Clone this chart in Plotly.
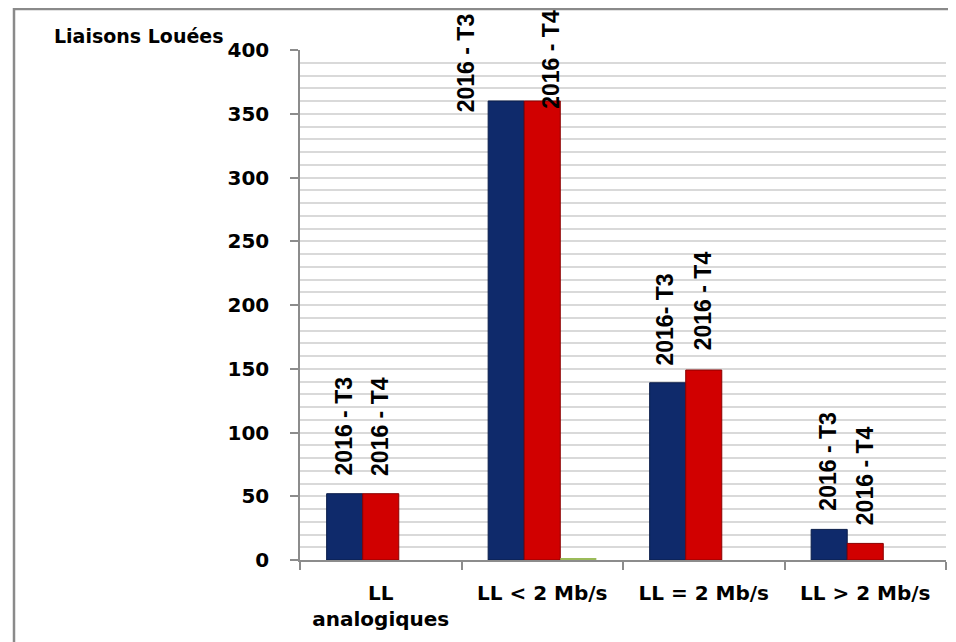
import plotly.graph_objects as go

# ---- data ----
categories = ["LL<br>analogiques", "LL < 2 Mb/s", "LL = 2 Mb/s", "LL > 2 Mb/s"]
series_names = ["2016 - T3", "2016 - T4", "autre"]
t3_values = [52, 360, 139, 24]
t4_values = [52, 360, 149, 13]
other_values = [0, 1, 0, 0]
t3_labels = ["2016 - T3", "2016 - T3", "2016- T3", "2016 - T3"]
t4_labels = ["2016 - T4", "2016 - T4", "2016 - T4", "2016 - T4"]
y_title = "Liaisons Louées"

# ---- styles ----
OFF = 8  # page body margin
W, H = 956 - OFF, 642 - OFF
ML, MR, MT, MB = 300 - OFF, 10, 50 - OFF, 82
PW, PH = W - ML - MR, H - MT - MB
BLUE = "#0f2a6b"
RED = "#d10000"
GREEN = "#9bbb59"
HFONT = "DejaVu Sans"
RFONT = "Liberation Sans"
# label offsets (pixels): (xshift, yshift)
t3_offsets = [(-37, 16), (-76, -13), (-39, 15), (-37, 17)]
t4_offsets = [(-1, 16), (8, -10), (-1, 18), (0, 16)]


def px_x(p):
    return (p - OFF - ML) / PW


def px_y(p):
    return (H - MB - (p - OFF)) / PH


fig = go.Figure()
fig.add_trace(go.Bar(x=categories, y=t3_values, name=series_names[0],
                     marker=dict(color=BLUE, line=dict(color="#0a1c4a", width=1))))
fig.add_trace(go.Bar(x=categories, y=t4_values, name=series_names[1],
                     marker=dict(color=RED, line=dict(color="#8a0000", width=1))))
fig.add_trace(go.Bar(x=categories, y=other_values, name=series_names[2],
                     marker=dict(color=GREEN, line=dict(width=0))))

ann = []
for i, c in enumerate(categories):
    for vals, labs, offs in ((t3_values, t3_labels, t3_offsets),
                             (t4_values, t4_labels, t4_offsets)):
        ann.append(dict(x=c, y=vals[i], xref="x", yref="y", text=labs[i],
                        showarrow=False, textangle=-90,
                        xanchor="center", yanchor="bottom",
                        xshift=offs[i][0], yshift=offs[i][1],
                        font=dict(family=RFONT, size=23, color="black", weight=700)))

ann.append(dict(x=px_x(52), y=px_y(36), xref="paper", yref="paper",
                text=y_title, showarrow=False, xanchor="left", yanchor="middle",
                font=dict(family=HFONT, size=19, color="black", weight=700)))

fig.update_layout(
    width=W, height=H,
    margin=dict(l=ML, r=MR, t=MT, b=MB),
    paper_bgcolor="white", plot_bgcolor="white",
    barmode="group", bargap=0.33, bargroupgap=0,
    showlegend=False,
    annotations=ann,
    shapes=[dict(type="rect", xref="paper", yref="paper",
                 x0=px_x(14), x1=px_x(980),
                 y0=px_y(700), y1=(H - MB - 1) / PH,
                 line=dict(color="#8a8a8a", width=2.5), layer="below")],
)
fig.update_xaxes(
    showline=True, linecolor="#8c8c8c", linewidth=1.5,
    ticks="outside", ticklen=8, tickcolor="#8c8c8c", tickwidth=1.5,
    tickson="boundaries", ticklabelstandoff=14,
    tickfont=dict(family=HFONT, size=20, color="black", weight=700),
    showgrid=False,
)
fig.update_yaxes(
    range=[0, 400], dtick=50, tick0=0,
    showline=True, linecolor="#8c8c8c", linewidth=1.5,
    ticks="outside", ticklen=8, tickcolor="#8c8c8c", tickwidth=1.5,
    ticklabelstandoff=17,
    tickfont=dict(family=HFONT, size=20, color="black", weight=700),
    showgrid=True, gridcolor="#d9d9d9", gridwidth=2,
    minor=dict(dtick=10, showgrid=True, gridcolor="#d9d9d9", gridwidth=2),
    zeroline=False,
)

fig.write_html("out.html")
